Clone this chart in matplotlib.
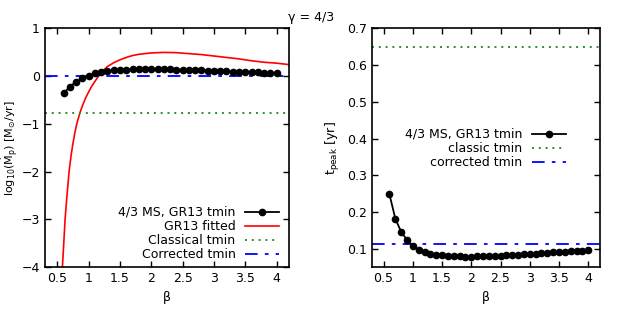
import matplotlib
matplotlib.use('Agg')
import matplotlib.pyplot as plt

plt.rcParams['font.family'] = ['DejaVu Sans']
plt.rcParams['font.size'] = 9
plt.rcParams['mathtext.default'] = 'regular'

# beta grid for the simulation points
beta = [0.6, 0.7, 0.8, 0.9, 1.0, 1.1, 1.2, 1.3, 1.4, 1.5, 1.6, 1.7, 1.8,
        1.9, 2.0, 2.1, 2.2, 2.3, 2.4, 2.5, 2.6, 2.7, 2.8, 2.9, 3.0, 3.1,
        3.2, 3.3, 3.4, 3.5, 3.6, 3.7, 3.8, 3.9, 4.0]

# log10 peak Mdot, 4/3 MS with GR13 tmin
log_mdot = [-0.36, -0.22, -0.12, -0.05, 0.01, 0.06, 0.09, 0.11, 0.12, 0.13,
            0.135, 0.14, 0.14, 0.145, 0.145, 0.145, 0.14, 0.14, 0.135, 0.13,
            0.13, 0.125, 0.12, 0.115, 0.11, 0.105, 0.10, 0.095, 0.09, 0.085,
            0.08, 0.075, 0.07, 0.065, 0.06]

# GR13 fitted curve
beta_fit = [0.58, 0.60, 0.623, 0.65, 0.687, 0.72, 0.75, 0.78, 0.81, 0.857,
            0.9, 0.95, 1.0, 1.05, 1.1, 1.157, 1.2, 1.26, 1.3, 1.4, 1.5, 1.6,
            1.7, 1.8, 1.9, 2.0, 2.2, 2.4, 2.6, 2.8, 3.0, 3.2, 3.4, 3.6, 3.8,
            4.0, 4.2]
log_mdot_fit = [-4.0, -3.55, -3.0, -2.55, -2.0, -1.65, -1.4, -1.18, -1.0,
                -0.78, -0.62, -0.46, -0.33, -0.21, -0.11, 0.0, 0.08, 0.15,
                0.2, 0.28, 0.34, 0.39, 0.43, 0.455, 0.47, 0.485, 0.495, 0.49,
                0.47, 0.45, 0.42, 0.39, 0.36, 0.32, 0.29, 0.27, 0.24]

# t_peak in yr
t_peak = [0.248, 0.182, 0.146, 0.124, 0.108, 0.098, 0.092, 0.087, 0.084,
          0.082, 0.080, 0.079, 0.079, 0.078, 0.078, 0.079, 0.079, 0.080,
          0.080, 0.081, 0.082, 0.083, 0.084, 0.085, 0.086, 0.087, 0.088,
          0.089, 0.090, 0.091, 0.092, 0.093, 0.094, 0.095, 0.097]

classical_mdot = -0.78
corrected_mdot = 0.0
classic_tpeak = 0.648
corrected_tpeak = 0.112

dashdot = (0, (7, 4, 2, 4))
dotted = (0, (1, 2.5))

fig = plt.figure(figsize=(6.23, 3.11), dpi=100)
ax1 = fig.add_axes([0.072, 0.141, 0.392, 0.768])
ax2 = fig.add_axes([0.597, 0.141, 0.366, 0.768])

ax1.plot(beta, log_mdot, color='black', marker='o', markersize=4.5, lw=1.3,
         label='4/3 MS, GR13 tmin', zorder=4)
ax1.plot(beta_fit, log_mdot_fit, color='red', lw=1.2, label='GR13 fitted')
ax1.axhline(classical_mdot, color='#2e8b2e', ls=dotted, lw=1.4, label='Classical tmin')
ax1.axhline(corrected_mdot, color='blue', ls=dashdot, lw=1.3, label='Corrected tmin')
ax1.set_xlim(0.3, 4.2)
ax1.set_ylim(-4, 1)
ax1.set_xticks([0.5, 1, 1.5, 2, 2.5, 3, 3.5, 4])
ax1.set_xticklabels(['0.5', '1', '1.5', '2', '2.5', '3', '3.5', '4'])
ax1.set_yticks([-4, -3, -2, -1, 0, 1])
ax1.set_xlabel('β')
ax1.set_ylabel(r'log$_{10}$($\dot{M}_p$) [M$_{\odot}$/yr]', fontsize=8, labelpad=1)
ax1.legend(loc='lower right', frameon=False, markerfirst=False,
           handlelength=2.7, labelspacing=0.08, borderaxespad=0.1,
           bbox_to_anchor=(0.985, 0.0))

ax2.plot(beta, t_peak, color='black', marker='o', markersize=4.5, lw=1.3,
         label='4/3 MS, GR13 tmin', zorder=4)
ax2.axhline(classic_tpeak, color='#2e8b2e', ls=dotted, lw=1.4, label='classic tmin')
ax2.axhline(corrected_tpeak, color='blue', ls=dashdot, lw=1.3, label='corrected tmin')
ax2.set_xlim(0.3, 4.2)
ax2.set_ylim(0.05, 0.7)
ax2.set_xticks([0.5, 1, 1.5, 2, 2.5, 3, 3.5, 4])
ax2.set_xticklabels(['0.5', '1', '1.5', '2', '2.5', '3', '3.5', '4'])
ax2.set_yticks([0.1, 0.2, 0.3, 0.4, 0.5, 0.6, 0.7])
ax2.set_xlabel('β')
ax2.set_ylabel(r't$_{peak}$ [yr]')
ax2.legend(loc='upper right', frameon=False, markerfirst=False,
           handlelength=2.7, labelspacing=0.08,
           bbox_to_anchor=(0.9, 0.63))

for ax in (ax1, ax2):
    ax.tick_params(direction='in', top=True, right=True, length=4, width=1)
    for s in ax.spines.values():
        s.set_linewidth(1.2)

fig.text(0.5, 0.945, 'γ = 4/3', ha='center', va='center', fontsize=9)

fig.savefig('out.png', dpi=100)
